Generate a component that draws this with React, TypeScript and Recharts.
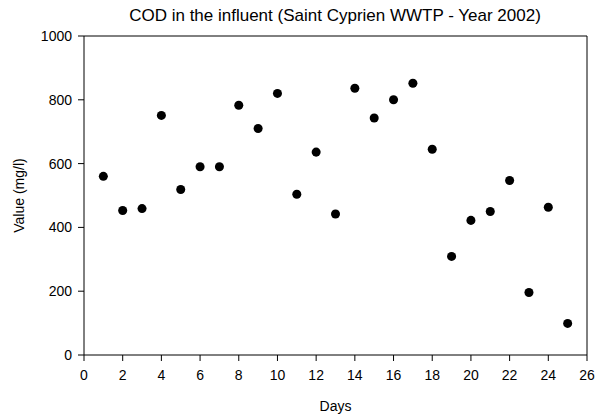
import { ScatterChart, Scatter, XAxis, YAxis, ReferenceLine } from "recharts";

const days = [1, 2, 3, 4, 5, 6, 7, 8, 9, 10, 11, 12, 13, 14, 15, 16, 17, 18, 19, 20, 21, 22, 23, 24, 25];
const cod = [560, 453, 459, 751, 519, 590, 590, 783, 710, 820, 504, 636, 442, 836, 743, 800, 852, 645, 309, 422, 450, 547, 196, 463, 99];
const xTicks = [0, 2, 4, 6, 8, 10, 12, 14, 16, 18, 20, 22, 24, 26];
const yTicks = [0, 200, 400, 600, 800, 1000];

const data = days.map((d, i) => ({ day: d, value: cod[i] }));

const font = "'Liberation Sans', Arial, sans-serif";

export default function App() {
  return (
    <div style={{ position: "absolute", left: 0, top: 0, width: 606, height: 417, background: "#fff", fontFamily: font }}>
      <div
        style={{
          position: "absolute",
          left: 0,
          width: 606,
          top: 6,
          textAlign: "center",
          paddingLeft: 64,
          boxSizing: "border-box",
          fontSize: 17,
          color: "#000",
        }}
      >
        COD in the influent (Saint Cyprien WWTP - Year 2002)
      </div>
      <ScatterChart width={606} height={417} margin={{ top: 36, right: 19, bottom: 0, left: 0 }}>
        <XAxis
          type="number"
          dataKey="day"
          domain={[0, 26]}
          ticks={xTicks}
          interval={0}
          tickSize={6}
          tickMargin={9}
          height={62}
          stroke="#000"
          tick={{ fill: "#000", fontSize: 14, fontFamily: font }}
          label={{ value: "Days", position: "insideBottom", offset: 6, fill: "#000", fontSize: 14, fontFamily: font }}
        />
        <YAxis
          type="number"
          dataKey="value"
          domain={[0, 1000]}
          ticks={yTicks}
          interval={0}
          tickSize={6}
          tickMargin={6}
          width={84}
          stroke="#000"
          tick={{ fill: "#000", fontSize: 14, fontFamily: font }}
          label={{ value: "Value (mg/l)", angle: -90, position: "insideLeft", offset: 19, fill: "#000", fontSize: 14, fontFamily: font, style: { textAnchor: "middle" } }}
        />
        <ReferenceLine y={1000} stroke="#000" />
        <ReferenceLine x={26} stroke="#000" />
        <Scatter data={data} fill="#000" shape="circle" isAnimationActive={false} />
      </ScatterChart>
    </div>
  );
}
